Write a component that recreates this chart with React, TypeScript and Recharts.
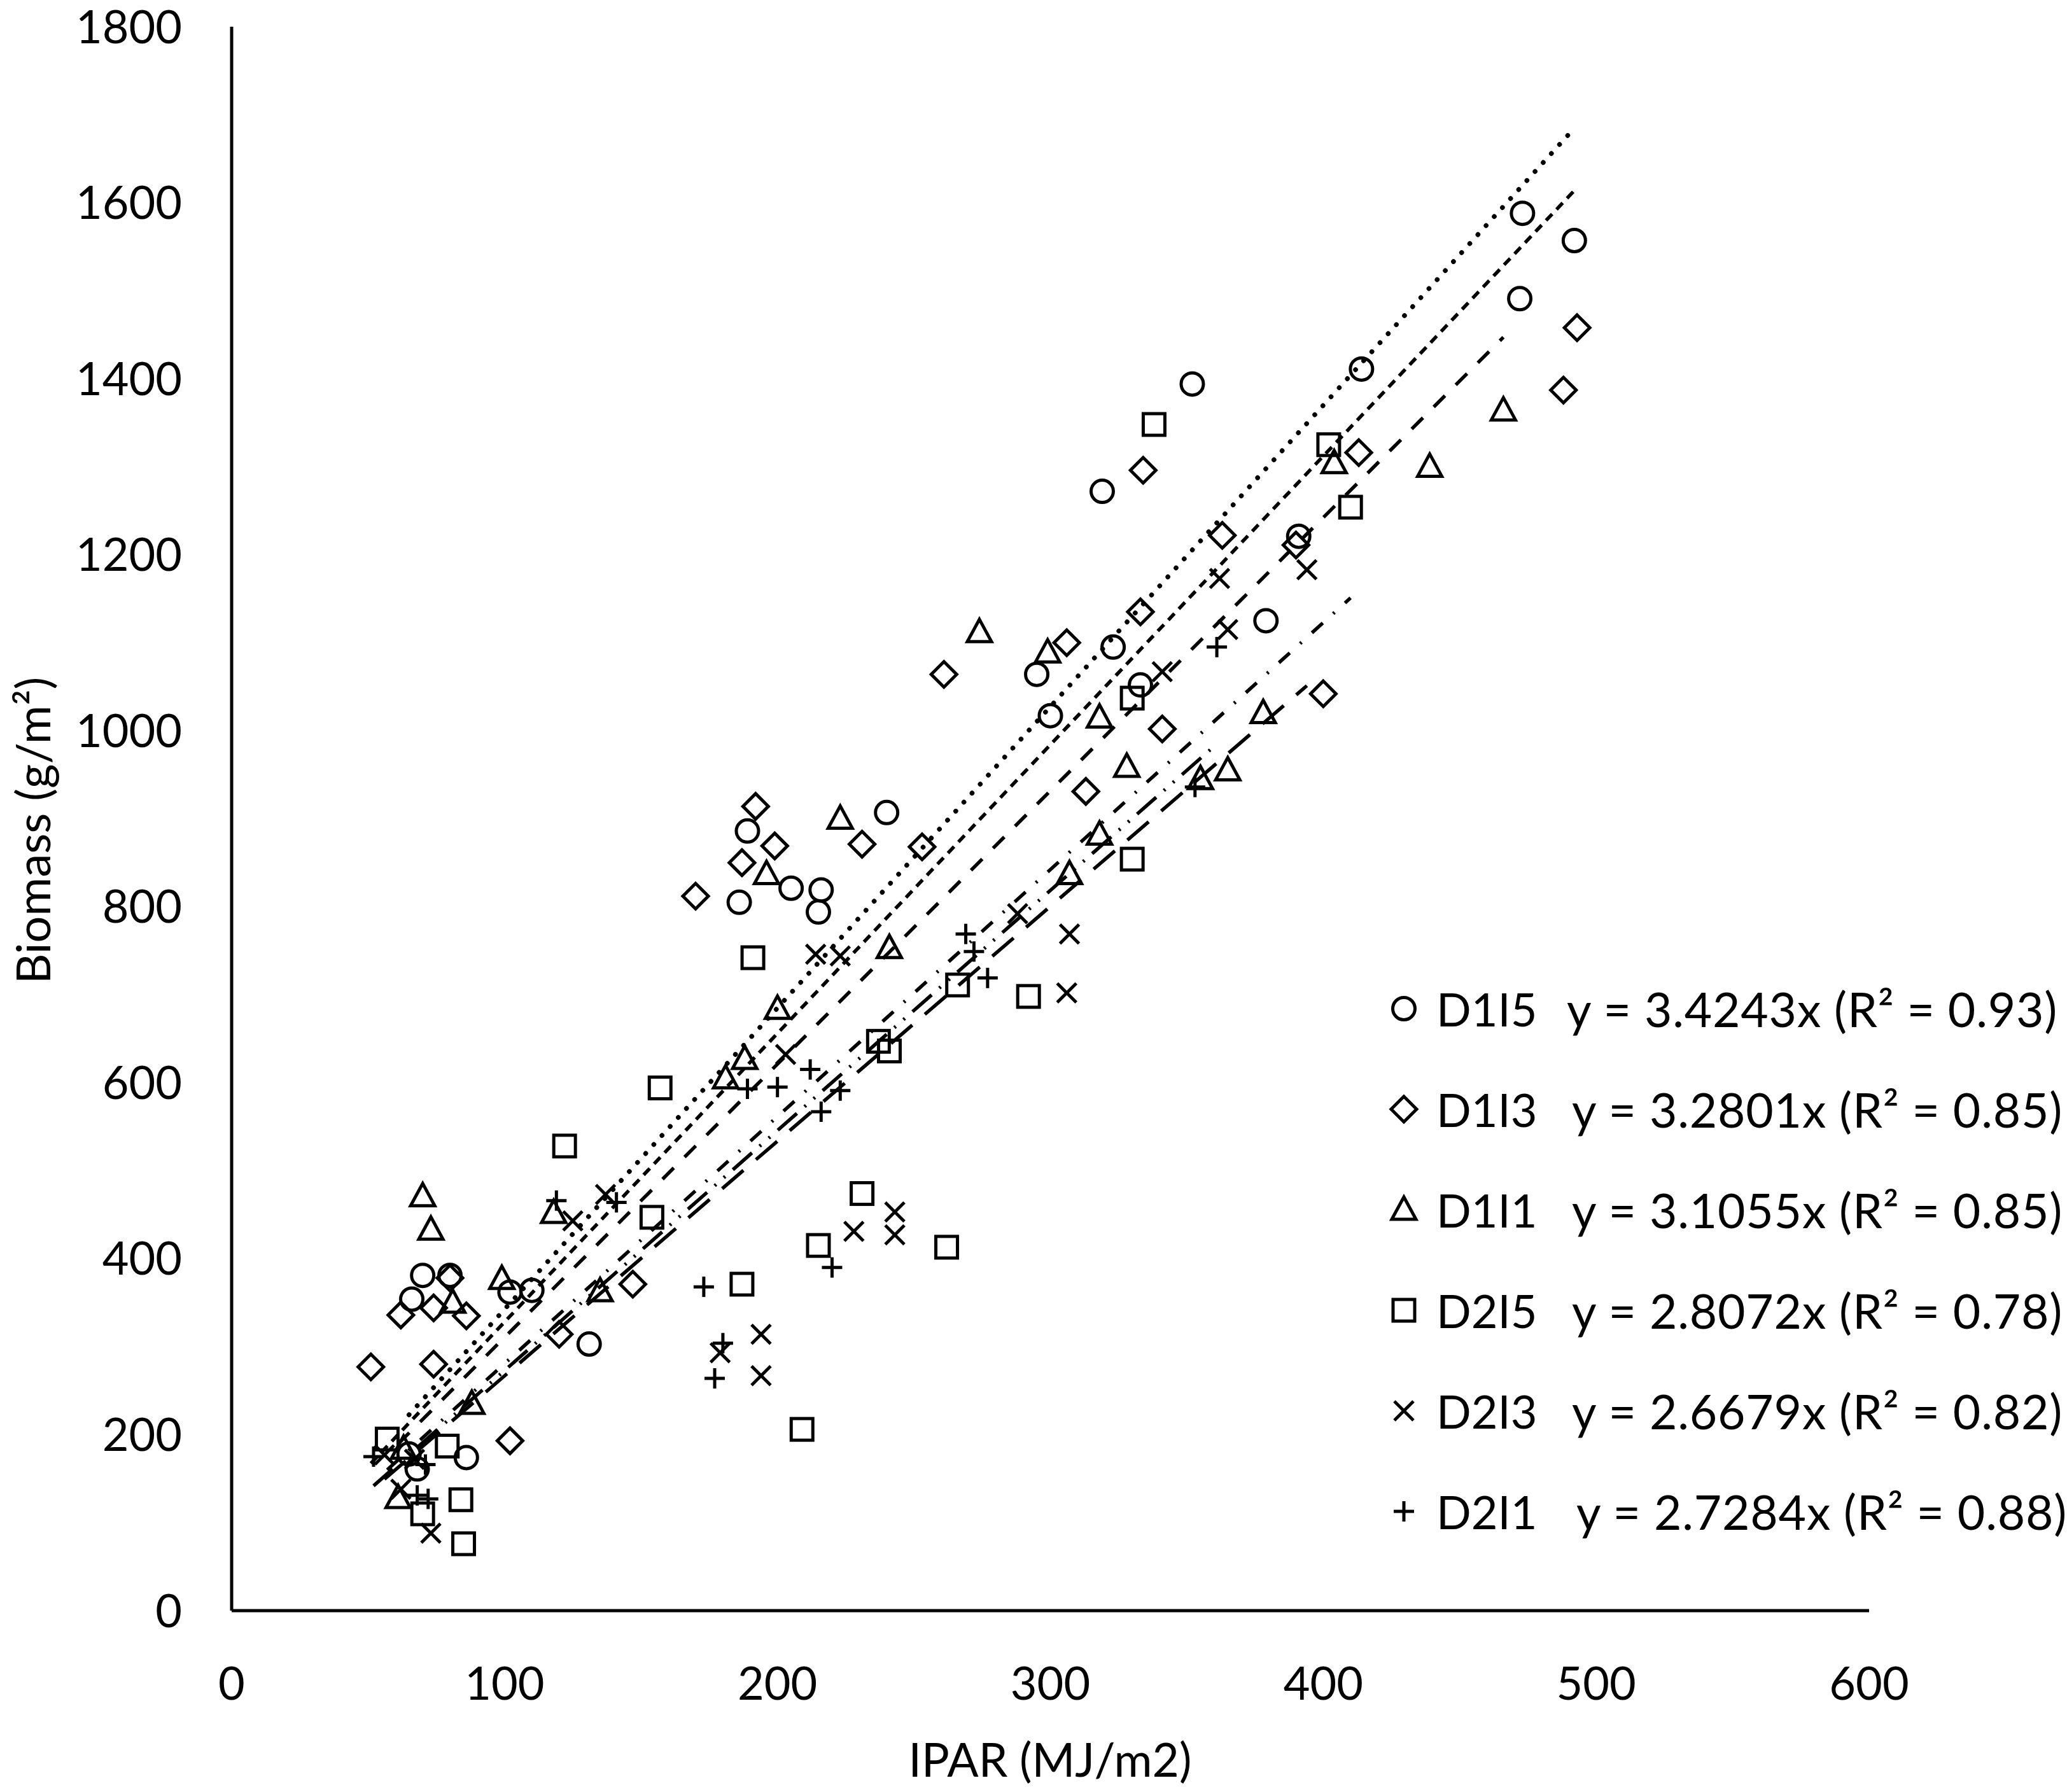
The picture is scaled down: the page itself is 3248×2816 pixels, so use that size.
import React from "react";
import { Legend, ReferenceLine, Scatter, ScatterChart, XAxis, YAxis } from "recharts";

type Pt = [number, number];
type Kind = "circle" | "diamond" | "triangle" | "square" | "cross" | "plus";

// IPAR (MJ/m2), biomass (g/m2)
const D1I5: Pt[] = [
  [473, 1588], [492, 1557], [472, 1491], [414, 1411], [352, 1394], [319, 1272], [391, 1221],
  [379, 1125], [323, 1095], [295, 1064], [333, 1052], [300, 1017], [240, 907], [189, 886],
  [205, 821], [216, 819], [186, 805], [215, 794], [70, 381], [80, 381], [66, 354], [102, 362],
  [110, 364], [131, 303], [86, 174], [68, 161], [65, 178],
];
const D1I3: Pt[] = [
  [493, 1458], [488, 1387], [413, 1316], [334, 1296], [363, 1222], [390, 1211], [333, 1135],
  [306, 1100], [261, 1064], [341, 1002], [400, 1042], [313, 931], [192, 914], [199, 869],
  [187, 850], [231, 871], [253, 868], [170, 812], [62, 336], [74, 344], [86, 335], [80, 378],
  [147, 371], [120, 314], [51, 277], [74, 280], [102, 193],
];
const D1I1: Pt[] = [
  [466, 1364], [439, 1300], [404, 1304], [274, 1112], [299, 1089], [318, 1015], [378, 1020],
  [328, 959], [355, 945], [365, 955], [318, 882], [307, 837], [223, 900], [196, 837], [241, 753],
  [200, 684], [188, 627], [181, 605], [70, 471], [73, 433], [81, 350], [99, 377], [118, 452],
  [135, 363], [88, 235], [63, 184], [61, 128],
];
const D2I5: Pt[] = [
  [410, 1254], [402, 1325], [338, 1348], [330, 1037], [330, 854], [292, 698], [266, 711],
  [237, 647], [241, 636], [191, 742], [157, 594], [122, 528], [154, 447], [231, 474], [215, 415],
  [262, 413], [187, 371], [209, 206], [57, 195], [79, 187], [84, 126], [70, 110], [85, 76],
];
const D2I3: Pt[] = [
  [394, 1183], [362, 1173], [365, 1115], [341, 1067], [288, 792], [307, 769], [306, 702],
  [214, 746], [223, 744], [203, 632], [125, 443], [137, 473], [243, 453], [228, 431], [243, 427],
  [194, 314], [179, 293], [194, 267], [56, 177], [67, 172], [62, 138], [73, 88],
];
const D2I1: Pt[] = [
  [361, 1095], [353, 936], [269, 769], [272, 749], [277, 719], [223, 591], [212, 615], [200, 595],
  [189, 593], [216, 567], [119, 466], [141, 464], [173, 368], [220, 390], [180, 304], [177, 264],
  [52, 175], [71, 166], [68, 131], [72, 127],
];

const NAMES = ["D1I5", "D1I3", "D1I1", "D2I5", "D2I3", "D2I1"];
const SLOPES = [3.4243, 3.2801, 3.1055, 2.8072, 2.6679, 2.7284];
const R2 = ["0.93", "0.85", "0.85", "0.78", "0.82", "0.88"];
const X_TICKS = [0, 100, 200, 300, 400, 500, 600];
const Y_TICKS = [0, 200, 400, 600, 800, 1000, 1200, 1400, 1600, 1800];

const DATA = [D1I5, D1I3, D1I1, D2I5, D2I3, D2I1];
const KINDS: Kind[] = ["circle", "diamond", "triangle", "square", "cross", "plus"];
const DASHES = ["0.1 19", "14 10", "25 24", "23 22 3 22", "44 26", "40 16 3 16 3 16"];
const EQ_LEFT = [312, 320, 320, 320, 320, 327];

const FONT = "Lato, Carlito, Calibri, sans-serif";
const INK = "#000";

function Marker({ cx, cy, kind }: { cx: number; cy: number; kind: Kind }) {
  const common = { fill: "none", stroke: INK, strokeWidth: 5 };
  switch (kind) {
    case "circle":
      return <circle cx={cx} cy={cy} r={17.5} {...common} />;
    case "diamond":
      return <polygon points={`${cx},${cy - 20} ${cx + 20},${cy} ${cx},${cy + 20} ${cx - 20},${cy}`} {...common} />;
    case "triangle":
      return <polygon points={`${cx},${cy - 20} ${cx + 19},${cy + 15} ${cx - 19},${cy + 15}`} {...common} />;
    case "square":
      return <rect x={cx - 17} y={cy - 17} width={34} height={34} {...common} />;
    case "cross":
      return (
        <g {...common}>
          <line x1={cx - 15} y1={cy - 15} x2={cx + 15} y2={cy + 15} />
          <line x1={cx - 15} y1={cy + 15} x2={cx + 15} y2={cy - 15} />
        </g>
      );
    default:
      return (
        <g {...common}>
          <line x1={cx - 16} y1={cy} x2={cx + 16} y2={cy} />
          <line x1={cx} y1={cy - 16} x2={cx} y2={cy + 16} />
        </g>
      );
  }
}

function LegendBox() {
  return (
    <div style={{ position: "relative", width: 1098, height: 948, fontFamily: FONT, fontSize: 72, color: INK }}>
      {NAMES.map((name, i) => (
        <div key={name} style={{ position: "absolute", left: 0, top: i * 158, width: 1098, height: 158 }}>
          <svg width={50} height={50} style={{ position: "absolute", left: 31, top: 54 }}>
            <Marker cx={25} cy={25} kind={KINDS[i]} />
          </svg>
          <span style={{ position: "absolute", left: 107, top: 79, transform: "translateY(-50%)", lineHeight: 1 }}>{name}</span>
          <span
            style={{
              position: "absolute",
              left: EQ_LEFT[i],
              top: 79,
              transform: "translateY(-50%)",
              lineHeight: 1,
              whiteSpace: "nowrap",
              fontSize: 75,
              letterSpacing: 0.8,
            }}
          >
            {`y = ${SLOPES[i].toFixed(4)}x (R² = ${R2[i]})`}
          </span>
        </div>
      ))}
    </div>
  );
}

export default function App() {
  const tick = { fill: INK, fontSize: 72, fontFamily: FONT };
  return (
    <div style={{ position: "absolute", left: 0, top: 0, width: 3248, height: 2816, background: "#fff" }}>
      <ScatterChart width={3248} height={2816} margin={{ top: 42, right: 311, bottom: 165, left: 164 }}>
        <XAxis
          type="number"
          dataKey="x"
          domain={[0, 600]}
          ticks={X_TICKS}
          tickLine={false}
          tickMargin={83}
          height={120}
          axisLine={{ stroke: INK, strokeWidth: 5 }}
          tick={tick}
        />
        <YAxis
          type="number"
          dataKey="y"
          domain={[0, 1800]}
          ticks={Y_TICKS}
          tickLine={false}
          tickMargin={72}
          width={200}
          axisLine={{ stroke: INK, strokeWidth: 5 }}
          tick={tick}
        />
        {DATA.map((pts, i) => (
          <Scatter
            key={NAMES[i]}
            name={NAMES[i]}
            data={pts.map(([x, y]) => ({ x, y }))}
            isAnimationActive={false}
            shape={(p: any) => <Marker cx={p.cx} cy={p.cy} kind={KINDS[i]} />}
          />
        ))}
        {DATA.map((pts, i) => {
          const xs = pts.map((p) => p[0]);
          const x0 = Math.min(...xs);
          const x1 = Math.max(...xs);
          return (
            <ReferenceLine
              key={`trend-${NAMES[i]}`}
              segment={[
                { x: x0, y: SLOPES[i] * x0 },
                { x: x1, y: SLOPES[i] * x1 },
              ]}
              stroke={INK}
              strokeWidth={i === 0 ? 7.5 : 5.5}
              strokeDasharray={DASHES[i]}
              strokeLinecap={i === 0 ? "round" : "butt"}
            />
          );
        })}
        <Legend
          layout="vertical"
          align="center"
          verticalAlign="middle"
          content={() => <LegendBox />}
          wrapperStyle={{ left: 2150, top: 1506, width: 1098 }}
        />
        <text x={1650} y={2792} textAnchor="middle" fontFamily={FONT} fontSize={73} fill={INK}>
          IPAR (MJ/m2)
        </text>
        <text x={79} y={1305} textAnchor="middle" fontFamily={FONT} fontSize={74} fill={INK} transform="rotate(-90, 79, 1305)">
          Biomass (g/m²)
        </text>
      </ScatterChart>
    </div>
  );
}
